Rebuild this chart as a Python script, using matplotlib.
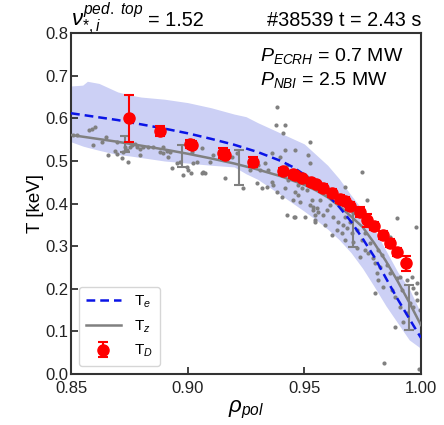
import matplotlib
matplotlib.use("Agg")
import matplotlib.pyplot as plt
import numpy as np

plt.rcParams['font.family'] = ['Liberation Sans', 'DejaVu Sans']
plt.rcParams['mathtext.fontset'] = 'custom'
plt.rcParams['mathtext.rm'] = 'Liberation Sans'
plt.rcParams['mathtext.it'] = 'Liberation Sans:italic'
plt.rcParams['mathtext.bf'] = 'Liberation Sans:bold'

# ---- data ----
te_rho = [0.85, 0.86, 0.87, 0.88, 0.89, 0.90, 0.91, 0.92, 0.93, 0.94, 0.945, 0.95,
          0.955, 0.96, 0.965, 0.97, 0.975, 0.98, 0.985, 0.99, 0.995, 1.00]
te_val = [0.612, 0.604, 0.596, 0.586, 0.576, 0.565, 0.552, 0.538, 0.521, 0.500, 0.486, 0.468,
          0.446, 0.420, 0.392, 0.358, 0.318, 0.275, 0.225, 0.176, 0.130, 0.085]

band_rho = [0.85, 0.855, 0.857, 0.862, 0.87, 0.875, 0.88, 0.89, 0.90, 0.91, 0.92, 0.925,
            0.93, 0.94, 0.95, 0.955, 0.96, 0.965, 0.97, 0.975, 0.98, 0.985, 0.99, 0.995, 1.00]
band_hi = [0.676, 0.678, 0.687, 0.682, 0.662, 0.655, 0.650, 0.645, 0.637, 0.625, 0.610, 0.604,
           0.590, 0.565, 0.540, 0.515, 0.490, 0.458, 0.420, 0.385, 0.340, 0.290, 0.240, 0.200, 0.143]
band_lo = [0.545, 0.535, 0.532, 0.525, 0.515, 0.512, 0.508, 0.500, 0.495, 0.490, 0.486, 0.470,
           0.457, 0.420, 0.382, 0.362, 0.340, 0.315, 0.285, 0.248, 0.205, 0.160, 0.120, 0.080, 0.060]

tz_rho = [0.85, 0.86, 0.87, 0.88, 0.89, 0.90, 0.91, 0.92, 0.93, 0.94, 0.95, 0.955,
          0.96, 0.965, 0.97, 0.975, 0.98, 0.985, 0.99, 0.995, 1.00]
tz_val = [0.561, 0.553, 0.545, 0.536, 0.527, 0.517, 0.506, 0.494, 0.480, 0.464, 0.444, 0.431,
          0.415, 0.394, 0.370, 0.345, 0.307, 0.265, 0.218, 0.168, 0.115]

tz_err_rho = [0.873, 0.8976, 0.922, 0.971, 0.995]
tz_err_val = [0.540, 0.512, 0.485, 0.340, 0.156]
tz_err = [0.018, 0.026, 0.041, 0.042, 0.053]

scat_rho = [0.8509, 0.8526, 0.8577, 0.8590, 0.8603, 0.8594, 0.8633, 0.8650, 0.8697, 0.8659,
            0.8689, 0.8697, 0.8719, 0.8723, 0.8731, 0.8740, 0.8744, 0.8753, 0.8761, 0.8774,
            0.8783, 0.8796, 0.8796, 0.8809, 0.8830, 0.8851, 0.8881, 0.8894, 0.8894, 0.8911,
            0.8924, 0.8916, 0.8933, 0.8954, 0.8967, 0.8980, 0.8997, 0.9001, 0.9014, 0.9023,
            0.9040, 0.9061, 0.9074, 0.9019,
            0.9061, 0.9066, 0.9096, 0.9109, 0.9160, 0.9190, 0.9211, 0.9237, 0.9267, 0.9301,
            0.9310, 0.9331, 0.9344, 0.9297, 0.9319, 0.9340, 0.9361, 0.9366, 0.9383, 0.9379,
            0.9417, 0.9409, 0.9361, 0.9396, 0.9417, 0.9426, 0.9404, 0.9383, 0.9404, 0.9417,
            0.9430, 0.9447, 0.9460, 0.9469, 0.9473, 0.9460, 0.9451, 0.9481, 0.9473, 0.9490,
            0.9503, 0.9511, 0.9524, 0.9516, 0.9524, 0.9533, 0.9537, 0.9426, 0.9460, 0.9503,
            0.9546, 0.9559, 0.9511, 0.9456, 0.9546,
            0.9537, 0.9546, 0.9580, 0.9589, 0.9623, 0.9619, 0.9640, 0.9644, 0.9661, 0.9666,
            0.9674, 0.9683, 0.9674, 0.9696, 0.9704, 0.9709, 0.9726, 0.9726, 0.9739, 0.9747,
            0.9760, 0.9760, 0.9773, 0.9781, 0.9794, 0.9803, 0.9816, 0.9811, 0.9824, 0.9833,
            0.9854, 0.9816, 0.9837, 0.9867, 0.9876, 0.9889, 0.9897, 0.9910, 0.9919, 0.9940,
            0.9961, 0.9966, 0.9983, 0.9979, 0.9983, 0.9953, 0.9966, 0.9940, 0.9923, 0.9889,
            0.9910, 0.9996, 0.9747, 0.9769, 0.9897, 0.9979, 0.9803, 0.9841, 0.9991, 0.9674,
            0.9661, 0.9709, 0.9730, 0.9803, 0.9846, 0.9867, 0.9880, 0.9567, 0.9524, 0.9554,
            0.9610, 0.9597]
scat_val = [0.561, 0.561, 0.572, 0.575, 0.579, 0.537, 0.544, 0.556, 0.544, 0.514,
            0.523, 0.516, 0.507, 0.521, 0.533, 0.526, 0.497, 0.533, 0.537, 0.540,
            0.533, 0.528, 0.514, 0.533, 0.533, 0.533, 0.521, 0.533, 0.518, 0.523,
            0.521, 0.509, 0.484, 0.495, 0.497, 0.467, 0.486, 0.479, 0.472, 0.495,
            0.497, 0.472, 0.472, 0.521,
            0.530, 0.474, 0.497, 0.514, 0.460, 0.509, 0.518, 0.436, 0.479, 0.490,
            0.479, 0.495, 0.479, 0.448, 0.436, 0.439, 0.450, 0.443, 0.626, 0.584,
            0.584, 0.565, 0.518, 0.509, 0.526, 0.490, 0.467, 0.427, 0.415, 0.436,
            0.455, 0.462, 0.526, 0.455, 0.443, 0.427, 0.408, 0.404, 0.420, 0.436,
            0.450, 0.432, 0.544, 0.514, 0.495, 0.408, 0.392, 0.373, 0.368, 0.368,
            0.373, 0.380, 0.462, 0.368, 0.357,
            0.385, 0.361, 0.373, 0.350, 0.368, 0.326, 0.338, 0.357, 0.331, 0.350,
            0.368, 0.343, 0.314, 0.357, 0.331, 0.310, 0.338, 0.296, 0.274, 0.314,
            0.331, 0.291, 0.284, 0.307, 0.272, 0.260, 0.291, 0.237, 0.251, 0.279,
            0.256, 0.221, 0.204, 0.237, 0.197, 0.181, 0.225, 0.228, 0.197, 0.221,
            0.228, 0.202, 0.213, 0.190, 0.174, 0.167, 0.157, 0.143, 0.122, 0.110,
            0.157, 0.150, 0.474, 0.408, 0.366, 0.345, 0.190, 0.026, 0.012, 0.439,
            0.408, 0.378, 0.385, 0.354, 0.333, 0.321, 0.298, 0.408, 0.396, 0.389,
            0.396, 0.385]

td_rho = [0.8749, 0.888, 0.901, 0.902, 0.915, 0.916, 0.928, 0.941, 0.945, 0.946,
          0.949, 0.953, 0.955, 0.958, 0.962, 0.9653, 0.9674, 0.9696, 0.974, 0.977,
          0.980, 0.9837, 0.9867, 0.9897, 0.9936]
td_val = [0.600, 0.570, 0.540, 0.538, 0.518, 0.515, 0.497, 0.476, 0.469, 0.467,
          0.460, 0.450, 0.446, 0.436, 0.425, 0.411, 0.406, 0.394, 0.380, 0.361,
          0.347, 0.326, 0.307, 0.286, 0.260]
td_err = [0.055, 0.012, 0.010, 0.010, 0.012, 0.010, 0.012, 0.008, 0.008, 0.008,
          0.008, 0.008, 0.008, 0.010, 0.010, 0.010, 0.010, 0.010, 0.012, 0.015,
          0.010, 0.010, 0.010, 0.010, 0.018]

# ---- figure ----
fig = plt.figure(figsize=(4.44, 4.25), dpi=100)
ax = fig.add_axes([0.160, 0.120, 0.788, 0.802])

ax.fill_between(band_rho, band_lo, band_hi, color='#ccd0f5', lw=0, zorder=1)
ax.scatter(scat_rho, scat_val, s=9, color='#808080', lw=0, zorder=2)
ax.plot(tz_rho, tz_val, color='#808080', lw=1.8, zorder=3, label='T$_z$')
ax.errorbar(tz_err_rho, tz_err_val, yerr=tz_err, fmt='none', ecolor='#808080',
            elinewidth=1.5, capsize=3.5, capthick=1.5, zorder=3)
ax.plot(te_rho, te_val, color='#0a14e6', lw=1.8, ls=(0, (3.5, 2)), zorder=4, label='T$_e$')
ax.errorbar(td_rho, td_val, yerr=td_err, fmt='o', color='#ff0000', ms=8,
            elinewidth=1.5, capsize=3.5, capthick=1.5, zorder=5, label='T$_D$')

ax.set_xlim(0.85, 1.00)
ax.set_ylim(0.0, 0.8)
ax.set_xticks([0.85, 0.90, 0.95, 1.00])
ax.set_xticklabels(['0.85', '0.90', '0.95', '1.00'])
ax.set_yticks([0.0, 0.1, 0.2, 0.3, 0.4, 0.5, 0.6, 0.7, 0.8])
ax.set_yticklabels(['0.0', '0.1', '0.2', '0.3', '0.4', '0.5', '0.6', '0.7', '0.8'])
ax.tick_params(direction='in', labelsize=12, length=5, width=1.2, colors='#222222',
               pad=2)
ax.tick_params(axis='x', pad=5)
for sp in ax.spines.values():
    sp.set_linewidth(1.5)
    sp.set_color('#333333')

ax.set_xlabel(r'$\rho_{pol}$', fontsize=16, labelpad=2)
ax.set_ylabel('T [keV]', fontsize=13.5, labelpad=1)

ax.text(0.0, 1.02, r'$\nu_{*,i}^{ped.\ top}$', transform=ax.transAxes,
        ha='left', va='baseline', fontsize=16)
ax.text(0.22, 1.02, '= 1.52', transform=ax.transAxes,
        ha='left', va='baseline', fontsize=14.3)
ax.text(1.0, 1.02, '#38539 t = 2.43 s', transform=ax.transAxes,
        ha='right', va='baseline', fontsize=14.3)
ax.text(0.54, 0.932, r'$P_{ECRH}$ = 0.7 MW', transform=ax.transAxes,
        ha='left', va='center', fontsize=14)
ax.text(0.54, 0.862, r'$P_{NBI}$ = 2.5 MW', transform=ax.transAxes,
        ha='left', va='center', fontsize=14)

h, l = ax.get_legend_handles_labels()
order = [l.index('T$_e$'), l.index('T$_z$'), l.index('T$_D$')]
ax.legend([h[i] for i in order], [l[i] for i in order], loc='lower left',
          fontsize=11, handlelength=2.3, frameon=True, borderpad=0.45,
          labelspacing=0.55, bbox_to_anchor=(0.0, 0.0), borderaxespad=0.5,
          handletextpad=0.9)

fig.savefig('out.png', dpi=100)
